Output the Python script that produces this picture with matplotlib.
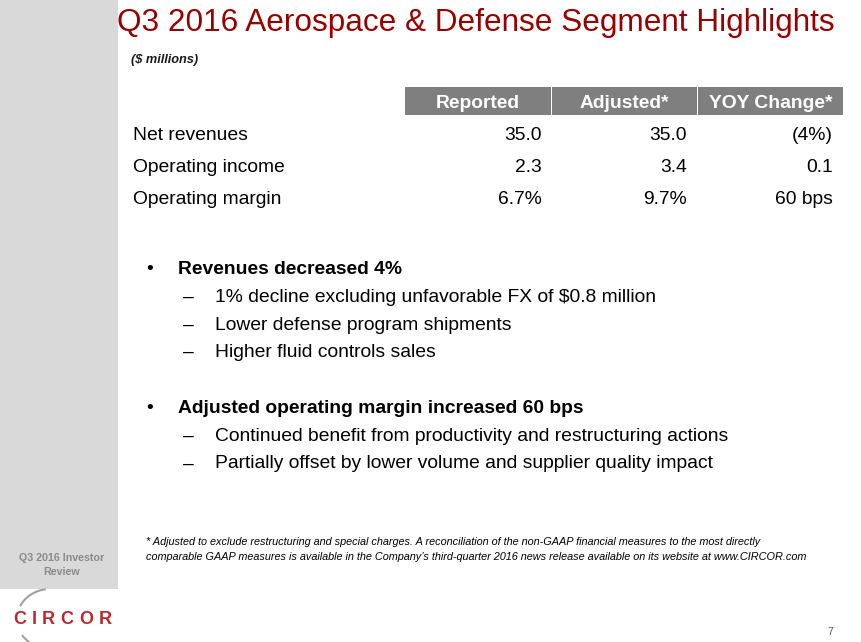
import matplotlib
matplotlib.use("Agg")
import matplotlib.pyplot as plt
from matplotlib.patches import Rectangle, Arc

plt.rcParams['font.family'] = ['Liberation Sans', 'DejaVu Sans']

title = "Q3 2016 Aerospace & Defense Segment Highlights"
subtitle = "($ millions)"
columns = ["Reported", "Adjusted*", "YOY Change*"]
row_labels = ["Net revenues", "Operating income", "Operating margin"]
reported = ["35.0", "2.3", "6.7%"]
adjusted = ["35.0", "3.4", "9.7%"]
yoy = ["(4%)", "0.1", "60 bps"]
bullets = [
    ("Revenues decreased 4%", [
        "1% decline excluding unfavorable FX of $0.8 million",
        "Lower defense program shipments",
        "Higher fluid controls sales",
    ]),
    ("Adjusted operating margin increased 60 bps", [
        "Continued benefit from productivity and restructuring actions",
        "Partially offset by lower volume and supplier quality impact",
    ]),
]
footnote = ["* Adjusted to exclude restructuring and special charges. A reconciliation of the non-GAAP financial measures to the most directly",
            "comparable GAAP measures is available in the Company\u2019s third-quarter 2016 news release available on its website at www.CIRCOR.com"]
sidebar_lines = ["Q3 2016 Investor", "Review"]
logo_letters = list("CIRCOR")
page = "7"

W, H = 862, 642
fig = plt.figure(figsize=(W / 100, H / 100), dpi=100)
ax = fig.add_axes([0, 0, 1, 1])
ax.set_xlim(0, W)
ax.set_ylim(H, 0)
ax.axis('off')

BODY = 13.85

# sidebar
ax.add_patch(Rectangle((0, 0), 118, 589, color='#d9d9d9', lw=0))
for i, s in enumerate(sidebar_lines):
    ax.text(62, 561 + 14 * i, s, ha='center', va='baseline', fontsize=7.7, fontweight='bold',
            color='#8a8a8a')

# title
ax.text(117, 31, title, ha='left', va='baseline', fontsize=22.7, color='#990000')
ax.text(131, 63, subtitle, ha='left', va='baseline', fontsize=9.2, fontweight='bold',
        fontstyle='italic', color='#1a1a1a')

# table header
col_right = [541.5, 687, 833]
col_left = [405, 552, 698]
col_w = [146, 145, 145]
for i, c in enumerate(columns):
    ax.add_patch(Rectangle((col_left[i], 87), col_w[i], 28, color='#7f7f7f', lw=0))
    ax.text(col_left[i] + col_w[i] / 2, 108.5, c, ha='center', va='baseline', fontsize=BODY,
            fontweight='bold', color='white')

row_base = [140.5, 172.5, 204.5]
for r, lab in enumerate(row_labels):
    ax.text(133, row_base[r], lab, ha='left', va='baseline', fontsize=BODY, color='black')
    for ci, vals in enumerate([reported, adjusted, yoy]):
        ax.text(col_right[ci], row_base[r], vals[r], ha='right', va='baseline', fontsize=BODY,
                color='black')

# bullets
y = 274
for bi, (head, subs) in enumerate(bullets):
    ax.text(146, y, "\u2022", ha='left', va='baseline', fontsize=BODY, color='black')
    ax.text(178, y, head, ha='left', va='baseline', fontsize=BODY, fontweight='bold', color='black')
    y += 28
    for s in subs:
        ax.text(183, y, "\u2013", ha='left', va='baseline', fontsize=BODY, color='black')
        ax.text(215, y, s, ha='left', va='baseline', fontsize=BODY, color='black')
        y += 27.5
    y += 28.5

# footnote
for i, s in enumerate(footnote):
    ax.text(146, 545 + 15 * i, s, ha='left', va='baseline', fontsize=7.8,
            fontstyle='italic', color='black')

# page number
ax.text(830, 635, page, ha='center', va='baseline', fontsize=7.5, color='#555555')

# logo (y axis inverted: data angles 180-360 appear on top)
ax.add_patch(Arc((50, 619), 66, 60, theta1=203, theta2=262, color='#a0a0a0', lw=1.5))
ax.add_patch(Arc((50, 619), 66, 60, theta1=110, theta2=150, color='#a0a0a0', lw=1.5))
logo_x = [20, 34.5, 48.5, 67, 86.5, 105]
for lx, ch in zip(logo_x, logo_letters):
    ax.text(lx, 624, ch, ha='center', va='baseline', fontsize=13, fontweight='bold',
            color='#c0272d')

fig.savefig("out.png", dpi=100)
